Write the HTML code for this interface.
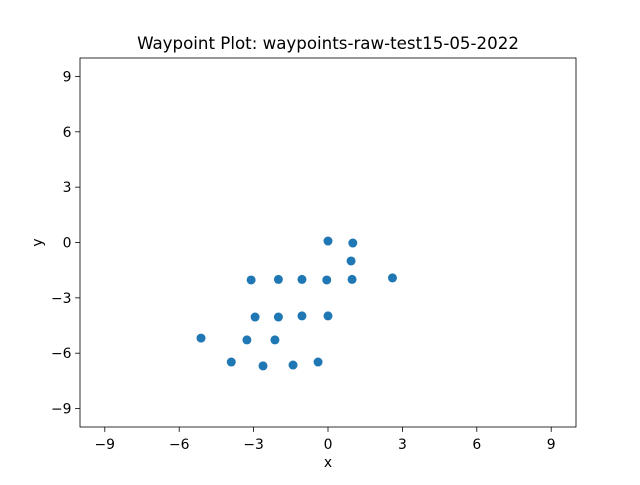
<!DOCTYPE html>
<html><head><meta charset="utf-8"><style>
body{margin:0;background:#fff;}
svg text{font-family:"DejaVu Sans","Liberation Sans",sans-serif;fill:#000;}
</style></head><body>
<svg id="chart" width="640" height="480" viewBox="0 0 640 480" xmlns="http://www.w3.org/2000/svg">
<rect width="640" height="480" fill="#fff"/>
<text x="328" y="49" font-size="16.67" text-anchor="middle">Waypoint Plot: waypoints-raw-test15-05-2022</text>
<g id="ticks"></g>
<g id="points"></g>
<rect x="80" y="58" width="496" height="369" fill="none" stroke="#000" stroke-width="0.8"/>
<text x="328" y="467" font-size="13.9" text-anchor="middle">x</text>
<text x="0" y="0" font-size="13.9" text-anchor="middle" transform="translate(42,242.5) rotate(-90)">y</text>
</svg>
<script>
const xs=[0,1.0,0.93,-3.1,-2.0,-1.05,-0.05,0.97,2.6,-2.94,-2.0,-1.05,0,-5.12,-3.27,-2.14,-3.9,-2.62,-1.41,-0.4];
const ys=[0.08,-0.03,-1.0,-2.03,-2.0,-2.0,-2.03,-2.0,-1.92,-4.04,-4.04,-3.98,-3.98,-5.18,-5.28,-5.28,-6.48,-6.69,-6.64,-6.48];
const xTicks=[-9,-6,-3,0,3,6,9];
const yTicks=[-9,-6,-3,0,3,6,9];
const NS="http://www.w3.org/2000/svg";
function sx(v){return 80+(v+10)/20*496;}
function sy(v){return 427-(v+10)/20*369;}
function lbl(v){return v<0?"\u2212"+(-v):""+v;}
const tg=document.getElementById("ticks");
xTicks.forEach(t=>{
  const l=document.createElementNS(NS,"line");
  l.setAttribute("x1",sx(t));l.setAttribute("x2",sx(t));l.setAttribute("y1",427);l.setAttribute("y2",431.9);l.setAttribute("stroke","#000");l.setAttribute("stroke-width","0.8");
  
  
  tg.appendChild(l);
  const tx=document.createElementNS(NS,"text");
  tx.setAttribute("x",sx(t));tx.setAttribute("y",449);tx.setAttribute("font-size","13.9");tx.setAttribute("text-anchor","middle");
  tx.textContent=lbl(t);
  
  
  tg.appendChild(tx);
});
yTicks.forEach(t=>{
  const l=document.createElementNS(NS,"line");
  l.setAttribute("x1",75.1);l.setAttribute("x2",80);l.setAttribute("y1",sy(t));l.setAttribute("y2",sy(t));l.setAttribute("stroke","#000");l.setAttribute("stroke-width","0.8");
  
  
  tg.appendChild(l);
  const tx=document.createElementNS(NS,"text");
  tx.setAttribute("x",71.5);tx.setAttribute("y",sy(t)+5);tx.setAttribute("font-size","13.9");tx.setAttribute("text-anchor","end");
  tx.textContent=lbl(t);
  
  
  tg.appendChild(tx);
});
const pg=document.getElementById("points");
xs.forEach((x,i)=>{
  const c=document.createElementNS(NS,"circle");
  c.setAttribute("cx",sx(x));c.setAttribute("cy",sy(ys[i]));c.setAttribute("r",4.5);c.setAttribute("fill","#1f77b4");
  
  
  pg.appendChild(c);
});
</script>
</body></html>
